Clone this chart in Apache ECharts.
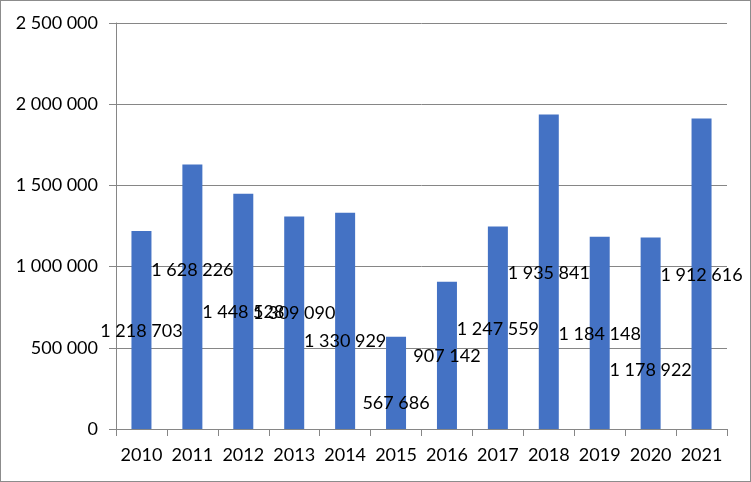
<!DOCTYPE html>
<html>
<head>
<meta charset="utf-8">
<script src="https://cdn.jsdelivr.net/npm/echarts@6/dist/echarts.min.js"></script>
<style>
html,body{margin:0;padding:0;background:#fff;}
#c{position:absolute;left:0;top:0;width:751px;height:482px;}
#b{position:absolute;left:0;top:0;width:749px;height:480px;border:1px solid #8c8c8c;pointer-events:none;}
</style>
</head>
<body>
<div id="c"></div>
<div id="b"></div>
<script>
const years = ['2010','2011','2012','2013','2014','2015','2016','2017','2018','2019','2020','2021'];
const values = [1218703, 1628226, 1448528, 1309090, 1330929, 567686, 907142, 1247559, 1935841, 1184148, 1178922, 1912616];
const yTicks = [0, 500000, 1000000, 1500000, 2000000, 2500000];
// label nudges (px) to mimic the original label collision placement
const labelNudge = [1, -27, 1, -10, 20, 20, 1, 1, 1, 1, 37, 1];

function fmt(v){
  return String(v).replace(/\B(?=(\d{3})+(?!\d))/g, ' ');
}

const chart = echarts.init(document.getElementById('c'), null, {renderer:'canvas'});
const FONT = 'Lato';
chart.setOption({
  animation:false,
  backgroundColor:'#ffffff',
  grid:{left:116, right:24, top:23, bottom:53, containLabel:false},
  xAxis:{
    type:'category',
    data:years,
    axisLine:{lineStyle:{color:'#868686', width:1}},
    axisTick:{show:true, length:7, lineStyle:{color:'#868686'}, alignWithLabel:false},
    axisLabel:{color:'#000', fontFamily:FONT, fontSize:18, margin:17, interval:0}
  },
  yAxis:{
    type:'value',
    min:yTicks[0],
    max:yTicks[yTicks.length-1],
    interval:yTicks[1]-yTicks[0],
    axisLine:{show:true, lineStyle:{color:'#868686', width:1}},
    axisTick:{show:true, length:7, lineStyle:{color:'#868686'}},
    splitLine:{lineStyle:{color:'#868686', width:1}},
    axisLabel:{color:'#000', fontFamily:FONT, fontSize:18, margin:18, formatter:fmt}
  },
  series:[{
    type:'bar',
    barWidth:20,
    itemStyle:{color:'#4472C4'},
    data: values,
    label:{
      show:true,
      position:'inside',
      color:'#000',
      fontFamily:FONT,
      fontSize:18,
      formatter:p=>fmt(p.value)
    },
    labelLayout:function(params){
      return {dy: labelNudge[params.dataIndex], hideOverlap:false};
    }
  }]
});
</script>
</body>
</html>
